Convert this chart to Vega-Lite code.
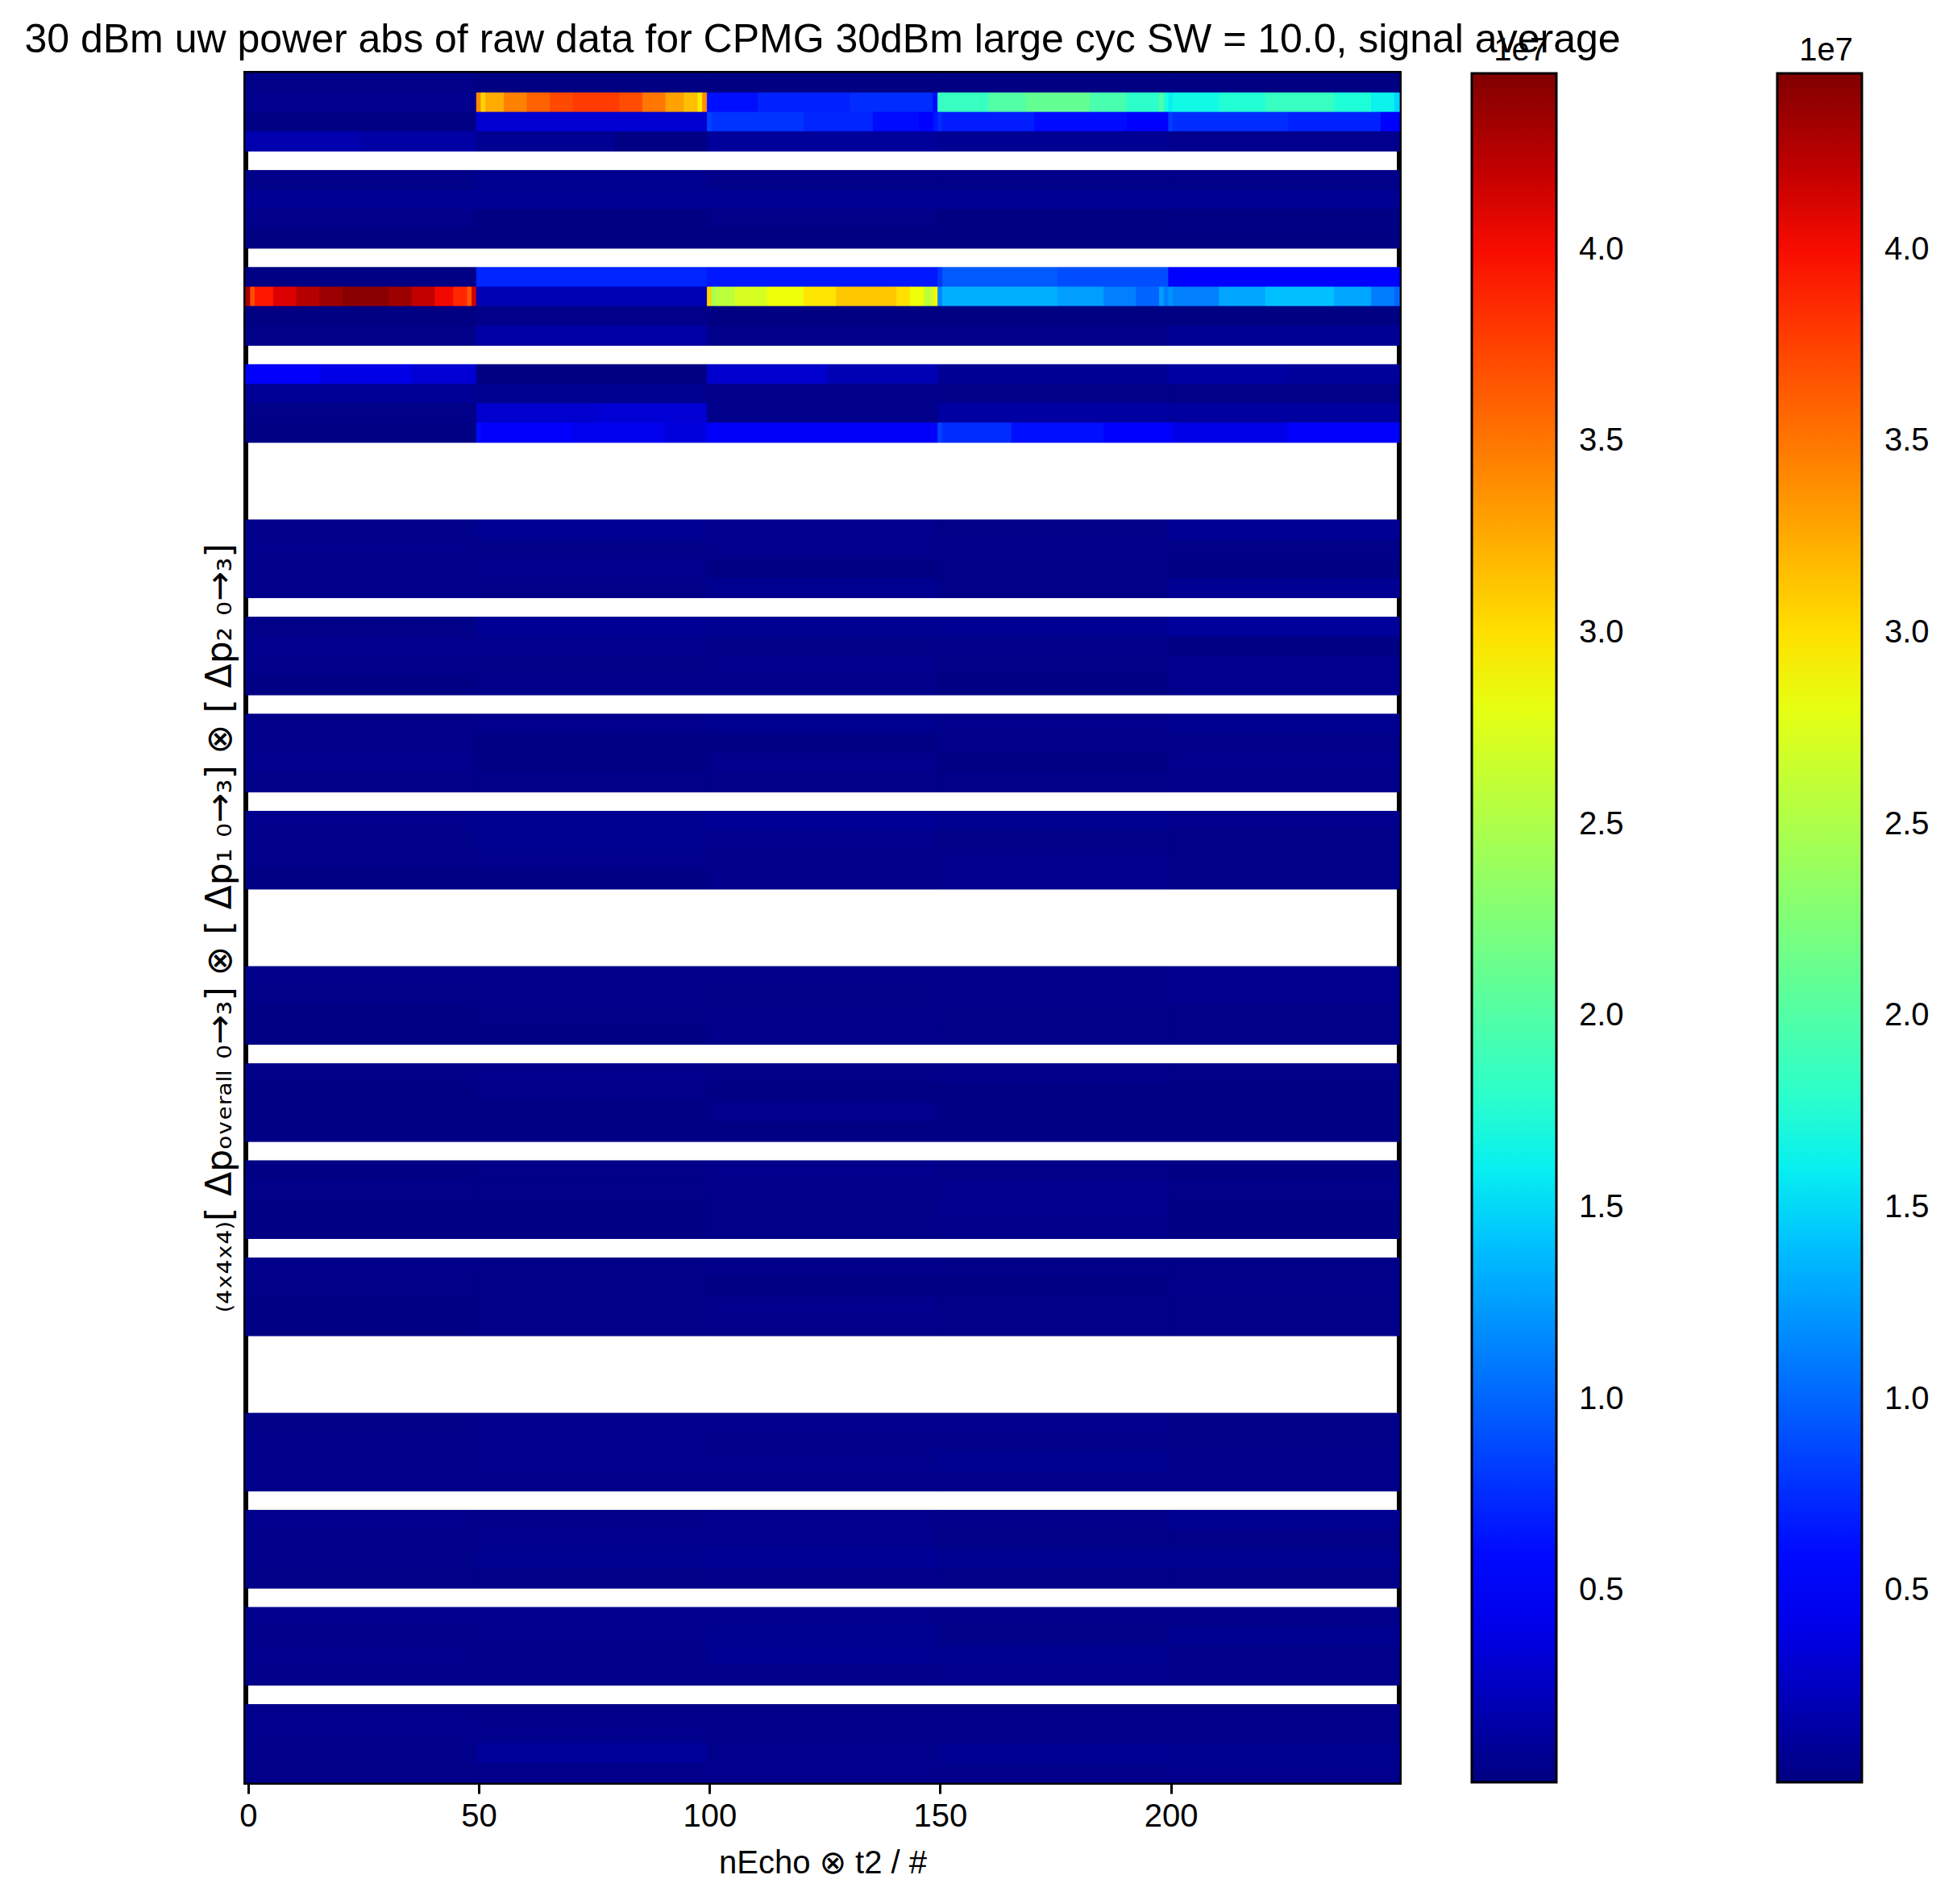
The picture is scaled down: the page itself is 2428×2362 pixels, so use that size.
{
"$schema":"https://vega.github.io/schema/vega-lite/v6.json",
"width":1431,"height":2120,
"autosize":{"type":"none"},
"padding":{"left":305,"top":91,"right":692,"bottom":151},
"background":"white",
"title":{"text":"30 dBm uw power abs of raw data for CPMG 30dBm large cyc SW = 10.0, signal average","fontSize":50,"font":"Liberation Sans","fontWeight":"normal","color":"black","anchor":"middle","baseline":"alphabetic","offset":-72},
"config":{"view":{"stroke":"black","strokeWidth":6},"font":"Liberation Sans"},
"data":{"values":[
{"row":0,"x0":-0.5,"x1":49.5,"v":300000},{"row":0,"x0":49.5,"x1":99.5,"v":100000},{"row":0,"x0":99.5,"x1":149.5,"v":100000},{"row":0,"x0":149.5,"x1":199.5,"v":100000},{"row":0,"x0":199.5,"x1":249.5,"v":100000},
{"row":1,"x0":-0.5,"x1":49.5,"v":500000},
{"row":1,"x0":49.5,"x1":50.5,"v":34000000},{"row":1,"x0":50.5,"x1":51.5,"v":30500000},{"row":1,"x0":51.5,"x1":55.5,"v":32500000},{"row":1,"x0":55.5,"x1":60.5,"v":34500000},{"row":1,"x0":60.5,"x1":65.5,"v":36000000},{"row":1,"x0":65.5,"x1":70.5,"v":37200000},{"row":1,"x0":70.5,"x1":80.5,"v":37800000},{"row":1,"x0":80.5,"x1":85.5,"v":37000000},{"row":1,"x0":85.5,"x1":90.5,"v":35000000},{"row":1,"x0":90.5,"x1":94.5,"v":33000000},{"row":1,"x0":94.5,"x1":97.5,"v":31500000},{"row":1,"x0":97.5,"x1":98.5,"v":29500000},{"row":1,"x0":98.5,"x1":99.5,"v":34000000},
{"row":1,"x0":99.5,"x1":110.5,"v":6200000},{"row":1,"x0":110.5,"x1":130.5,"v":7000000},{"row":1,"x0":130.5,"x1":148.5,"v":7500000},{"row":1,"x0":148.5,"x1":149.5,"v":6000000},
{"row":1,"x0":149.5,"x1":150.5,"v":18500000},{"row":1,"x0":150.5,"x1":160.5,"v":18500000},{"row":1,"x0":160.5,"x1":168.5,"v":20000000},{"row":1,"x0":168.5,"x1":182.5,"v":21000000},{"row":1,"x0":182.5,"x1":190.5,"v":19500000},{"row":1,"x0":190.5,"x1":197.5,"v":18000000},{"row":1,"x0":197.5,"x1":198.5,"v":20000000},{"row":1,"x0":198.5,"x1":199.5,"v":17000000},
{"row":1,"x0":199.5,"x1":200.5,"v":16000000},{"row":1,"x0":200.5,"x1":210.5,"v":16500000},{"row":1,"x0":210.5,"x1":220.5,"v":17500000},{"row":1,"x0":220.5,"x1":235.5,"v":18500000},{"row":1,"x0":235.5,"x1":243.5,"v":17200000},{"row":1,"x0":243.5,"x1":248.5,"v":16200000},{"row":1,"x0":248.5,"x1":249.5,"v":15000000},
{"row":2,"x0":-0.5,"x1":49.5,"v":200000},{"row":2,"x0":49.5,"x1":99.5,"v":3200000},
{"row":2,"x0":99.5,"x1":100.5,"v":8500000},{"row":2,"x0":100.5,"x1":120.5,"v":7800000},{"row":2,"x0":120.5,"x1":135.5,"v":7200000},{"row":2,"x0":135.5,"x1":145.5,"v":6000000},{"row":2,"x0":145.5,"x1":148.5,"v":5000000},{"row":2,"x0":148.5,"x1":149.5,"v":6500000},
{"row":2,"x0":149.5,"x1":150.5,"v":7500000},{"row":2,"x0":150.5,"x1":170.5,"v":6800000},{"row":2,"x0":170.5,"x1":190.5,"v":6000000},{"row":2,"x0":190.5,"x1":199.5,"v":5000000},
{"row":2,"x0":199.5,"x1":200.5,"v":8200000},{"row":2,"x0":200.5,"x1":225.5,"v":7500000},{"row":2,"x0":225.5,"x1":245.5,"v":7000000},{"row":2,"x0":245.5,"x1":249.5,"v":5000000},
{"row":3,"x0":-0.5,"x1":24.5,"v":1800000},{"row":3,"x0":24.5,"x1":49.5,"v":1400000},{"row":3,"x0":49.5,"x1":79.5,"v":700000},{"row":3,"x0":79.5,"x1":99.5,"v":200000},{"row":3,"x0":99.5,"x1":149.5,"v":1000000},{"row":3,"x0":149.5,"x1":199.5,"v":700000},{"row":3,"x0":199.5,"x1":249.5,"v":500000},
{"row":5,"x0":-0.5,"x1":49.5,"v":300000},{"row":5,"x0":49.5,"x1":99.5,"v":600000},{"row":5,"x0":99.5,"x1":149.5,"v":300000},{"row":5,"x0":149.5,"x1":199.5,"v":300000},{"row":5,"x0":199.5,"x1":249.5,"v":300000},
{"row":6,"x0":-0.5,"x1":49.5,"v":800000},{"row":6,"x0":49.5,"x1":99.5,"v":800000},{"row":6,"x0":99.5,"x1":149.5,"v":700000},{"row":6,"x0":149.5,"x1":199.5,"v":700000},{"row":6,"x0":199.5,"x1":249.5,"v":700000},
{"row":7,"x0":-0.5,"x1":49.5,"v":400000},{"row":7,"x0":49.5,"x1":99.5,"v":100000},{"row":7,"x0":99.5,"x1":149.5,"v":300000},{"row":7,"x0":149.5,"x1":199.5,"v":100000},{"row":7,"x0":199.5,"x1":249.5,"v":200000},
{"row":8,"x0":-0.5,"x1":49.5,"v":100000},{"row":8,"x0":49.5,"x1":99.5,"v":100000},{"row":8,"x0":99.5,"x1":149.5,"v":100000},{"row":8,"x0":149.5,"x1":199.5,"v":100000},{"row":8,"x0":199.5,"x1":249.5,"v":100000},
{"row":10,"x0":-0.5,"x1":49.5,"v":200000},{"row":10,"x0":49.5,"x1":99.5,"v":7200000},{"row":10,"x0":99.5,"x1":149.5,"v":6600000},{"row":10,"x0":149.5,"x1":150.5,"v":8000000},{"row":10,"x0":150.5,"x1":175.5,"v":9500000},{"row":10,"x0":175.5,"x1":199.5,"v":9000000},{"row":10,"x0":199.5,"x1":249.5,"v":5200000},
{"row":11,"x0":-0.5,"x1":0.5,"v":43000000},{"row":11,"x0":0.5,"x1":1.5,"v":37000000},{"row":11,"x0":1.5,"x1":5.5,"v":39500000},{"row":11,"x0":5.5,"x1":10.5,"v":41000000},{"row":11,"x0":10.5,"x1":15.5,"v":42500000},{"row":11,"x0":15.5,"x1":20.5,"v":43500000},{"row":11,"x0":20.5,"x1":30.5,"v":44200000},{"row":11,"x0":30.5,"x1":35.5,"v":43500000},{"row":11,"x0":35.5,"x1":40.5,"v":42000000},{"row":11,"x0":40.5,"x1":44.5,"v":40200000},{"row":11,"x0":44.5,"x1":47.5,"v":38800000},{"row":11,"x0":47.5,"x1":48.5,"v":36500000},{"row":11,"x0":48.5,"x1":49.5,"v":41500000},
{"row":11,"x0":49.5,"x1":99.5,"v":2000000},
{"row":11,"x0":99.5,"x1":100.5,"v":30500000},{"row":11,"x0":100.5,"x1":101.5,"v":24500000},{"row":11,"x0":101.5,"x1":105.5,"v":25800000},{"row":11,"x0":105.5,"x1":112.5,"v":27200000},{"row":11,"x0":112.5,"x1":120.5,"v":28500000},{"row":11,"x0":120.5,"x1":127.5,"v":29700000},{"row":11,"x0":127.5,"x1":140.5,"v":31200000},{"row":11,"x0":140.5,"x1":143.5,"v":30000000},{"row":11,"x0":143.5,"x1":146.5,"v":28500000},{"row":11,"x0":146.5,"x1":148.5,"v":26000000},{"row":11,"x0":148.5,"x1":149.5,"v":29000000},
{"row":11,"x0":149.5,"x1":150.5,"v":11500000},{"row":11,"x0":150.5,"x1":175.5,"v":13300000},{"row":11,"x0":175.5,"x1":185.5,"v":12500000},{"row":11,"x0":185.5,"x1":192.5,"v":11200000},{"row":11,"x0":192.5,"x1":197.5,"v":10000000},{"row":11,"x0":197.5,"x1":198.5,"v":12500000},{"row":11,"x0":198.5,"x1":199.5,"v":11000000},
{"row":11,"x0":199.5,"x1":200.5,"v":12000000},{"row":11,"x0":200.5,"x1":210.5,"v":11200000},{"row":11,"x0":210.5,"x1":220.5,"v":12800000},{"row":11,"x0":220.5,"x1":235.5,"v":14000000},{"row":11,"x0":235.5,"x1":243.5,"v":12800000},{"row":11,"x0":243.5,"x1":248.5,"v":11000000},{"row":11,"x0":248.5,"x1":249.5,"v":10000000},
{"row":12,"x0":-0.5,"x1":49.5,"v":100000},{"row":12,"x0":49.5,"x1":99.5,"v":400000},{"row":12,"x0":99.5,"x1":149.5,"v":100000},{"row":12,"x0":149.5,"x1":199.5,"v":100000},{"row":12,"x0":199.5,"x1":249.5,"v":100000},
{"row":13,"x0":-0.5,"x1":49.5,"v":300000},{"row":13,"x0":49.5,"x1":99.5,"v":1500000},{"row":13,"x0":99.5,"x1":149.5,"v":400000},{"row":13,"x0":149.5,"x1":199.5,"v":400000},{"row":13,"x0":199.5,"x1":249.5,"v":800000},
{"row":15,"x0":-0.5,"x1":15.5,"v":4800000},{"row":15,"x0":15.5,"x1":35.5,"v":4000000},{"row":15,"x0":35.5,"x1":49.5,"v":3300000},{"row":15,"x0":49.5,"x1":99.5,"v":100000},{"row":15,"x0":99.5,"x1":125.5,"v":3000000},{"row":15,"x0":125.5,"x1":149.5,"v":2000000},{"row":15,"x0":149.5,"x1":199.5,"v":800000},{"row":15,"x0":199.5,"x1":225.5,"v":1300000},{"row":15,"x0":225.5,"x1":249.5,"v":1000000},
{"row":16,"x0":-0.5,"x1":49.5,"v":900000},{"row":16,"x0":49.5,"x1":99.5,"v":600000},{"row":16,"x0":99.5,"x1":149.5,"v":400000},{"row":16,"x0":149.5,"x1":199.5,"v":300000},{"row":16,"x0":199.5,"x1":249.5,"v":300000},
{"row":17,"x0":-0.5,"x1":49.5,"v":300000},{"row":17,"x0":49.5,"x1":75.5,"v":3000000},{"row":17,"x0":75.5,"x1":99.5,"v":3300000},{"row":17,"x0":99.5,"x1":149.5,"v":400000},{"row":17,"x0":149.5,"x1":199.5,"v":1300000},{"row":17,"x0":199.5,"x1":249.5,"v":1200000},
{"row":18,"x0":-0.5,"x1":49.5,"v":200000},{"row":18,"x0":49.5,"x1":50.5,"v":6000000},{"row":18,"x0":50.5,"x1":70.5,"v":4800000},{"row":18,"x0":70.5,"x1":90.5,"v":4200000},{"row":18,"x0":90.5,"x1":99.5,"v":3600000},{"row":18,"x0":99.5,"x1":149.5,"v":4700000},{"row":18,"x0":149.5,"x1":150.5,"v":8500000},{"row":18,"x0":150.5,"x1":165.5,"v":7500000},{"row":18,"x0":165.5,"x1":185.5,"v":6200000},{"row":18,"x0":185.5,"x1":199.5,"v":5000000},{"row":18,"x0":199.5,"x1":200.5,"v":5500000},{"row":18,"x0":200.5,"x1":225.5,"v":4000000},{"row":18,"x0":225.5,"x1":249.5,"v":4800000},
{"row":23,"x0":-0.5,"x1":49.5,"v":400000},{"row":23,"x0":49.5,"x1":99.5,"v":700000},{"row":23,"x0":99.5,"x1":149.5,"v":500000},{"row":23,"x0":149.5,"x1":199.5,"v":300000},{"row":23,"x0":199.5,"x1":249.5,"v":800000},
{"row":24,"x0":-0.5,"x1":49.5,"v":500000},{"row":24,"x0":49.5,"x1":99.5,"v":300000},{"row":24,"x0":99.5,"x1":149.5,"v":500000},{"row":24,"x0":149.5,"x1":199.5,"v":400000},{"row":24,"x0":199.5,"x1":249.5,"v":300000},
{"row":25,"x0":-0.5,"x1":49.5,"v":400000},{"row":25,"x0":49.5,"x1":99.5,"v":500000},{"row":25,"x0":99.5,"x1":149.5,"v":200000},{"row":25,"x0":149.5,"x1":199.5,"v":300000},{"row":25,"x0":199.5,"x1":249.5,"v":200000},
{"row":26,"x0":-0.5,"x1":49.5,"v":400000},{"row":26,"x0":49.5,"x1":99.5,"v":300000},{"row":26,"x0":99.5,"x1":149.5,"v":600000},{"row":26,"x0":149.5,"x1":199.5,"v":300000},{"row":26,"x0":199.5,"x1":249.5,"v":700000},
{"row":28,"x0":-0.5,"x1":49.5,"v":300000},{"row":28,"x0":49.5,"x1":99.5,"v":800000},{"row":28,"x0":99.5,"x1":149.5,"v":600000},{"row":28,"x0":149.5,"x1":199.5,"v":700000},{"row":28,"x0":199.5,"x1":249.5,"v":1000000},
{"row":29,"x0":-0.5,"x1":49.5,"v":500000},{"row":29,"x0":49.5,"x1":99.5,"v":500000},{"row":29,"x0":99.5,"x1":149.5,"v":300000},{"row":29,"x0":149.5,"x1":199.5,"v":400000},{"row":29,"x0":199.5,"x1":249.5,"v":200000},
{"row":30,"x0":-0.5,"x1":49.5,"v":400000},{"row":30,"x0":49.5,"x1":99.5,"v":300000},{"row":30,"x0":99.5,"x1":149.5,"v":500000},{"row":30,"x0":149.5,"x1":199.5,"v":300000},{"row":30,"x0":199.5,"x1":249.5,"v":500000},
{"row":31,"x0":-0.5,"x1":49.5,"v":200000},{"row":31,"x0":49.5,"x1":99.5,"v":400000},{"row":31,"x0":99.5,"x1":149.5,"v":400000},{"row":31,"x0":149.5,"x1":199.5,"v":200000},{"row":31,"x0":199.5,"x1":249.5,"v":500000},
{"row":33,"x0":-0.5,"x1":49.5,"v":400000},{"row":33,"x0":49.5,"x1":99.5,"v":500000},{"row":33,"x0":99.5,"x1":149.5,"v":600000},{"row":33,"x0":149.5,"x1":199.5,"v":500000},{"row":33,"x0":199.5,"x1":249.5,"v":600000},
{"row":34,"x0":-0.5,"x1":49.5,"v":400000},{"row":34,"x0":49.5,"x1":99.5,"v":200000},{"row":34,"x0":99.5,"x1":149.5,"v":200000},{"row":34,"x0":149.5,"x1":199.5,"v":400000},{"row":34,"x0":199.5,"x1":249.5,"v":400000},
{"row":35,"x0":-0.5,"x1":49.5,"v":500000},{"row":35,"x0":49.5,"x1":99.5,"v":200000},{"row":35,"x0":99.5,"x1":149.5,"v":500000},{"row":35,"x0":149.5,"x1":199.5,"v":200000},{"row":35,"x0":199.5,"x1":249.5,"v":500000},
{"row":36,"x0":-0.5,"x1":49.5,"v":300000},{"row":36,"x0":49.5,"x1":99.5,"v":300000},{"row":36,"x0":99.5,"x1":149.5,"v":300000},{"row":36,"x0":149.5,"x1":199.5,"v":300000},{"row":36,"x0":199.5,"x1":249.5,"v":400000},
{"row":38,"x0":-0.5,"x1":49.5,"v":500000},{"row":38,"x0":49.5,"x1":99.5,"v":600000},{"row":38,"x0":99.5,"x1":149.5,"v":900000},{"row":38,"x0":149.5,"x1":199.5,"v":600000},{"row":38,"x0":199.5,"x1":249.5,"v":500000},
{"row":39,"x0":-0.5,"x1":49.5,"v":400000},{"row":39,"x0":49.5,"x1":99.5,"v":600000},{"row":39,"x0":99.5,"x1":149.5,"v":500000},{"row":39,"x0":149.5,"x1":199.5,"v":300000},{"row":39,"x0":199.5,"x1":249.5,"v":300000},
{"row":40,"x0":-0.5,"x1":49.5,"v":400000},{"row":40,"x0":49.5,"x1":99.5,"v":500000},{"row":40,"x0":99.5,"x1":149.5,"v":400000},{"row":40,"x0":149.5,"x1":199.5,"v":500000},{"row":40,"x0":199.5,"x1":249.5,"v":300000},
{"row":41,"x0":-0.5,"x1":49.5,"v":200000},{"row":41,"x0":49.5,"x1":99.5,"v":200000},{"row":41,"x0":99.5,"x1":149.5,"v":400000},{"row":41,"x0":149.5,"x1":199.5,"v":500000},{"row":41,"x0":199.5,"x1":249.5,"v":300000},
{"row":46,"x0":-0.5,"x1":49.5,"v":400000},{"row":46,"x0":49.5,"x1":99.5,"v":400000},{"row":46,"x0":99.5,"x1":149.5,"v":400000},{"row":46,"x0":149.5,"x1":199.5,"v":400000},{"row":46,"x0":199.5,"x1":249.5,"v":500000},
{"row":47,"x0":-0.5,"x1":49.5,"v":300000},{"row":47,"x0":49.5,"x1":99.5,"v":400000},{"row":47,"x0":99.5,"x1":149.5,"v":300000},{"row":47,"x0":149.5,"x1":199.5,"v":400000},{"row":47,"x0":199.5,"x1":249.5,"v":500000},
{"row":48,"x0":-0.5,"x1":49.5,"v":200000},{"row":48,"x0":49.5,"x1":99.5,"v":300000},{"row":48,"x0":99.5,"x1":149.5,"v":400000},{"row":48,"x0":149.5,"x1":199.5,"v":300000},{"row":48,"x0":199.5,"x1":249.5,"v":300000},
{"row":49,"x0":-0.5,"x1":49.5,"v":200000},{"row":49,"x0":49.5,"x1":99.5,"v":200000},{"row":49,"x0":99.5,"x1":149.5,"v":400000},{"row":49,"x0":149.5,"x1":199.5,"v":300000},{"row":49,"x0":199.5,"x1":249.5,"v":300000},
{"row":51,"x0":-0.5,"x1":49.5,"v":300000},{"row":51,"x0":49.5,"x1":99.5,"v":500000},{"row":51,"x0":99.5,"x1":149.5,"v":300000},{"row":51,"x0":149.5,"x1":199.5,"v":400000},{"row":51,"x0":199.5,"x1":249.5,"v":300000},
{"row":52,"x0":-0.5,"x1":49.5,"v":200000},{"row":52,"x0":49.5,"x1":99.5,"v":400000},{"row":52,"x0":99.5,"x1":149.5,"v":200000},{"row":52,"x0":149.5,"x1":199.5,"v":200000},{"row":52,"x0":199.5,"x1":249.5,"v":200000},
{"row":53,"x0":-0.5,"x1":49.5,"v":200000},{"row":53,"x0":49.5,"x1":99.5,"v":200000},{"row":53,"x0":99.5,"x1":149.5,"v":500000},{"row":53,"x0":149.5,"x1":199.5,"v":200000},{"row":53,"x0":199.5,"x1":249.5,"v":200000},
{"row":54,"x0":-0.5,"x1":49.5,"v":200000},{"row":54,"x0":49.5,"x1":99.5,"v":200000},{"row":54,"x0":99.5,"x1":149.5,"v":200000},{"row":54,"x0":149.5,"x1":199.5,"v":200000},{"row":54,"x0":199.5,"x1":249.5,"v":200000},
{"row":56,"x0":-0.5,"x1":49.5,"v":200000},{"row":56,"x0":49.5,"x1":99.5,"v":300000},{"row":56,"x0":99.5,"x1":149.5,"v":500000},{"row":56,"x0":149.5,"x1":199.5,"v":300000},{"row":56,"x0":199.5,"x1":249.5,"v":200000},
{"row":57,"x0":-0.5,"x1":49.5,"v":300000},{"row":57,"x0":49.5,"x1":99.5,"v":300000},{"row":57,"x0":99.5,"x1":149.5,"v":400000},{"row":57,"x0":149.5,"x1":199.5,"v":500000},{"row":57,"x0":199.5,"x1":249.5,"v":300000},
{"row":58,"x0":-0.5,"x1":49.5,"v":200000},{"row":58,"x0":49.5,"x1":99.5,"v":200000},{"row":58,"x0":99.5,"x1":149.5,"v":300000},{"row":58,"x0":149.5,"x1":199.5,"v":500000},{"row":58,"x0":199.5,"x1":249.5,"v":200000},
{"row":59,"x0":-0.5,"x1":49.5,"v":200000},{"row":59,"x0":49.5,"x1":99.5,"v":200000},{"row":59,"x0":99.5,"x1":149.5,"v":300000},{"row":59,"x0":149.5,"x1":199.5,"v":400000},{"row":59,"x0":199.5,"x1":249.5,"v":200000},
{"row":61,"x0":-0.5,"x1":49.5,"v":400000},{"row":61,"x0":49.5,"x1":99.5,"v":300000},{"row":61,"x0":99.5,"x1":149.5,"v":400000},{"row":61,"x0":149.5,"x1":199.5,"v":300000},{"row":61,"x0":199.5,"x1":249.5,"v":300000},
{"row":62,"x0":-0.5,"x1":49.5,"v":300000},{"row":62,"x0":49.5,"x1":99.5,"v":300000},{"row":62,"x0":99.5,"x1":149.5,"v":200000},{"row":62,"x0":149.5,"x1":199.5,"v":200000},{"row":62,"x0":199.5,"x1":249.5,"v":400000},
{"row":63,"x0":-0.5,"x1":49.5,"v":200000},{"row":63,"x0":49.5,"x1":99.5,"v":300000},{"row":63,"x0":99.5,"x1":149.5,"v":500000},{"row":63,"x0":149.5,"x1":199.5,"v":300000},{"row":63,"x0":199.5,"x1":249.5,"v":300000},
{"row":64,"x0":-0.5,"x1":49.5,"v":200000},{"row":64,"x0":49.5,"x1":99.5,"v":300000},{"row":64,"x0":99.5,"x1":149.5,"v":400000},{"row":64,"x0":149.5,"x1":199.5,"v":300000},{"row":64,"x0":199.5,"x1":249.5,"v":300000},
{"row":69,"x0":-0.5,"x1":49.5,"v":300000},{"row":69,"x0":49.5,"x1":99.5,"v":500000},{"row":69,"x0":99.5,"x1":149.5,"v":500000},{"row":69,"x0":149.5,"x1":199.5,"v":500000},{"row":69,"x0":199.5,"x1":249.5,"v":300000},
{"row":70,"x0":-0.5,"x1":49.5,"v":400000},{"row":70,"x0":49.5,"x1":99.5,"v":500000},{"row":70,"x0":99.5,"x1":149.5,"v":400000},{"row":70,"x0":149.5,"x1":199.5,"v":400000},{"row":70,"x0":199.5,"x1":249.5,"v":300000},
{"row":71,"x0":-0.5,"x1":49.5,"v":400000},{"row":71,"x0":49.5,"x1":99.5,"v":500000},{"row":71,"x0":99.5,"x1":149.5,"v":500000},{"row":71,"x0":149.5,"x1":199.5,"v":600000},{"row":71,"x0":199.5,"x1":249.5,"v":400000},
{"row":72,"x0":-0.5,"x1":49.5,"v":400000},{"row":72,"x0":49.5,"x1":99.5,"v":400000},{"row":72,"x0":99.5,"x1":149.5,"v":400000},{"row":72,"x0":149.5,"x1":199.5,"v":400000},{"row":72,"x0":199.5,"x1":249.5,"v":400000},
{"row":74,"x0":-0.5,"x1":49.5,"v":500000},{"row":74,"x0":49.5,"x1":99.5,"v":400000},{"row":74,"x0":99.5,"x1":149.5,"v":500000},{"row":74,"x0":149.5,"x1":199.5,"v":400000},{"row":74,"x0":199.5,"x1":249.5,"v":600000},
{"row":75,"x0":-0.5,"x1":49.5,"v":400000},{"row":75,"x0":49.5,"x1":99.5,"v":500000},{"row":75,"x0":99.5,"x1":149.5,"v":500000},{"row":75,"x0":149.5,"x1":199.5,"v":300000},{"row":75,"x0":199.5,"x1":249.5,"v":300000},
{"row":76,"x0":-0.5,"x1":49.5,"v":400000},{"row":76,"x0":49.5,"x1":99.5,"v":600000},{"row":76,"x0":99.5,"x1":149.5,"v":800000},{"row":76,"x0":149.5,"x1":199.5,"v":600000},{"row":76,"x0":199.5,"x1":249.5,"v":600000},
{"row":77,"x0":-0.5,"x1":49.5,"v":300000},{"row":77,"x0":49.5,"x1":99.5,"v":300000},{"row":77,"x0":99.5,"x1":149.5,"v":400000},{"row":77,"x0":149.5,"x1":199.5,"v":300000},{"row":77,"x0":199.5,"x1":249.5,"v":300000},
{"row":79,"x0":-0.5,"x1":49.5,"v":500000},{"row":79,"x0":49.5,"x1":99.5,"v":500000},{"row":79,"x0":99.5,"x1":149.5,"v":500000},{"row":79,"x0":149.5,"x1":199.5,"v":400000},{"row":79,"x0":199.5,"x1":249.5,"v":400000},
{"row":80,"x0":-0.5,"x1":49.5,"v":400000},{"row":80,"x0":49.5,"x1":99.5,"v":500000},{"row":80,"x0":99.5,"x1":149.5,"v":600000},{"row":80,"x0":149.5,"x1":199.5,"v":300000},{"row":80,"x0":199.5,"x1":249.5,"v":600000},
{"row":81,"x0":-0.5,"x1":49.5,"v":500000},{"row":81,"x0":49.5,"x1":99.5,"v":400000},{"row":81,"x0":99.5,"x1":149.5,"v":700000},{"row":81,"x0":149.5,"x1":199.5,"v":600000},{"row":81,"x0":199.5,"x1":249.5,"v":400000},
{"row":82,"x0":-0.5,"x1":49.5,"v":400000},{"row":82,"x0":49.5,"x1":99.5,"v":400000},{"row":82,"x0":99.5,"x1":149.5,"v":400000},{"row":82,"x0":149.5,"x1":199.5,"v":500000},{"row":82,"x0":199.5,"x1":249.5,"v":400000},
{"row":84,"x0":-0.5,"x1":49.5,"v":500000},{"row":84,"x0":49.5,"x1":99.5,"v":400000},{"row":84,"x0":99.5,"x1":149.5,"v":400000},{"row":84,"x0":149.5,"x1":199.5,"v":400000},{"row":84,"x0":199.5,"x1":249.5,"v":400000},
{"row":85,"x0":-0.5,"x1":49.5,"v":500000},{"row":85,"x0":49.5,"x1":99.5,"v":500000},{"row":85,"x0":99.5,"x1":149.5,"v":400000},{"row":85,"x0":149.5,"x1":199.5,"v":400000},{"row":85,"x0":199.5,"x1":249.5,"v":400000},
{"row":86,"x0":-0.5,"x1":49.5,"v":400000},{"row":86,"x0":49.5,"x1":99.5,"v":1000000},{"row":86,"x0":99.5,"x1":149.5,"v":500000},{"row":86,"x0":149.5,"x1":199.5,"v":700000},{"row":86,"x0":199.5,"x1":249.5,"v":600000},
{"row":87,"x0":-0.5,"x1":49.5,"v":300000},{"row":87,"x0":49.5,"x1":99.5,"v":400000},{"row":87,"x0":99.5,"x1":149.5,"v":500000},{"row":87,"x0":149.5,"x1":199.5,"v":400000},{"row":87,"x0":199.5,"x1":249.5,"v":500000}
]},
"encoding":{
"x":{"field":"x0","type":"quantitative","scale":{"domain":[-0.5,249.5],"nice":false,"zero":false},
"axis":{"values":[0,50,100,150,200],"format":"d","grid":false,"domain":false,"tickSize":14,"tickWidth":3,"tickColor":"black","labelFontSize":40,"labelFont":"Liberation Sans","labelColor":"black","labelPadding":8,"title":"nEcho ⊗ t2 / #","titleFontSize":40,"titleFont":"Liberation Sans, DejaVu Sans","titleFontWeight":"normal","titleColor":"black","titlePadding":18}},
"x2":{"field":"x1"},
"y":{"field":"row","type":"ordinal","scale":{"domain":[0,1,2,3,4,5,6,7,8,9,10,11,12,13,14,15,16,17,18,19,20,21,22,23,24,25,26,27,28,29,30,31,32,33,34,35,36,37,38,39,40,41,42,43,44,45,46,47,48,49,50,51,52,53,54,55,56,57,58,59,60,61,62,63,64,65,66,67,68,69,70,71,72,73,74,75,76,77,78,79,80,81,82,83,84,85,86,87],"paddingInner":0,"paddingOuter":0},
"axis":{"labels":false,"ticks":false,"domain":false,"grid":false,"title":"₍₄ₓ₄ₓ₄₎[ Δpₒᵥₑᵣₐₗₗ ₀→₃] ⊗ [ Δp₁ ₀→₃] ⊗ [ Δp₂ ₀→₃]","titleFontSize":44,"titleFont":"DejaVu Sans","titleFontWeight":"normal","titleColor":"black","titlePadding":10}}
},
"layer":[
{"mark":{"type":"rect","strokeWidth":0.8},
"encoding":{
"color":{"field":"v","type":"quantitative","scale":{"domain":[0,4906000,5575000,15164000,15610000,16725000,28544000,28990000,29436000,39694000,40586000,44600000],"range":["#000080","#0000ff","#0000ff","#00dbff","#00e6f7","#15ffe2","#efff08","#f7f600","#ffec00","#ff1300","#e80000","#800000"],"interpolate":"rgb"},
"legend":{"orient":"none","legendX":1521,"legendY":-48,"direction":"vertical","gradientLength":2120,"gradientThickness":105,"gradientStrokeColor":"black","gradientStrokeWidth":3,"values":[5000000,10000000,15000000,20000000,25000000,30000000,35000000,40000000],"labelExpr":"format(datum.value/10000000,'.1f')","labelOverlap":false,"title":"1e7","titleFontSize":40,"titleFont":"Liberation Sans","titleFontWeight":"normal","titleColor":"black","titleAnchor":"middle","titleAlign":"right","titlePadding":8,"labelFontSize":40,"labelFont":"Liberation Sans","labelColor":"black","labelOffset":28,"padding":0}},
"stroke":{"field":"v","type":"quantitative","scale":{"domain":[0,4906000,5575000,15164000,15610000,16725000,28544000,28990000,29436000,39694000,40586000,44600000],"range":["#000080","#0000ff","#0000ff","#00dbff","#00e6f7","#15ffe2","#efff08","#f7f600","#ffec00","#ff1300","#e80000","#800000"],"interpolate":"rgb"},"legend":null}}},
{"mark":{"type":"rect","strokeWidth":0.8},
"encoding":{
"color":{"field":"v","type":"quantitative","scale":{"domain":[0,4906000,5575000,15164000,15610000,16725000,28544000,28990000,29436000,39694000,40586000,44600000],"range":["#000080","#0000ff","#0000ff","#00dbff","#00e6f7","#15ffe2","#efff08","#f7f600","#ffec00","#ff1300","#e80000","#800000"],"interpolate":"rgb"},
"legend":{"orient":"none","legendX":1900,"legendY":-48,"direction":"vertical","gradientLength":2120,"gradientThickness":105,"gradientStrokeColor":"black","gradientStrokeWidth":3,"values":[5000000,10000000,15000000,20000000,25000000,30000000,35000000,40000000],"labelExpr":"format(datum.value/10000000,'.1f')","labelOverlap":false,"title":"1e7","titleFontSize":40,"titleFont":"Liberation Sans","titleFontWeight":"normal","titleColor":"black","titleAnchor":"middle","titleAlign":"right","titlePadding":8,"labelFontSize":40,"labelFont":"Liberation Sans","labelColor":"black","labelOffset":28,"padding":0}},
"stroke":{"field":"v","type":"quantitative","scale":{"domain":[0,4906000,5575000,15164000,15610000,16725000,28544000,28990000,29436000,39694000,40586000,44600000],"range":["#000080","#0000ff","#0000ff","#00dbff","#00e6f7","#15ffe2","#efff08","#f7f600","#ffec00","#ff1300","#e80000","#800000"],"interpolate":"rgb"},"legend":null}}}
],
"resolve":{"scale":{"color":"independent"},"legend":{"color":"independent"}}
}
